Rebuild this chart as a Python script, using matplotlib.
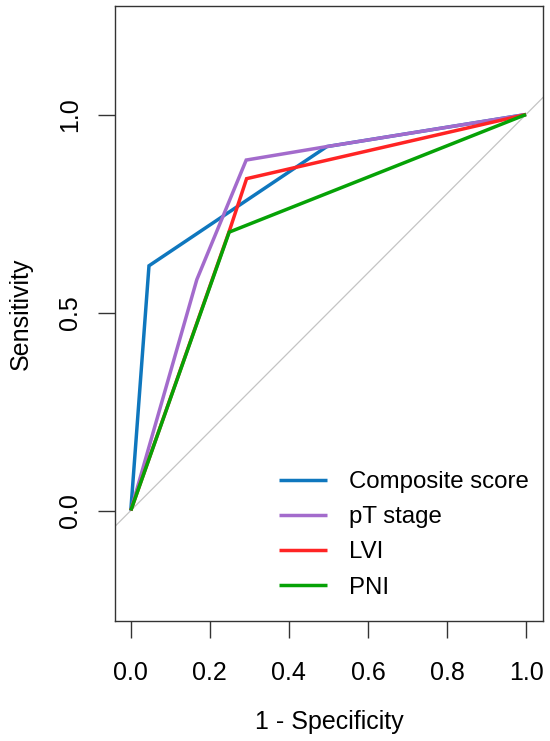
import matplotlib
matplotlib.use("Agg")
import matplotlib.pyplot as plt

plt.rcParams['font.family'] = ['Liberation Sans', 'DejaVu Sans']

# ROC data (x = 1 - specificity, y = sensitivity)
series_names = ["Composite score", "pT stage", "LVI", "PNI"]
composite_x = [0.0, 0.046, 0.496, 1.0]
composite_y = [0.0, 0.618, 0.919, 1.0]
pt_x = [0.0, 0.167, 0.292, 0.496, 1.0]
pt_y = [0.0, 0.583, 0.885, 0.919, 1.0]
lvi_x = [0.0, 0.250, 0.293, 1.0]
lvi_y = [0.0, 0.708, 0.838, 1.0]
pni_x = [0.0, 0.249, 1.0]
pni_y = [0.0, 0.703, 1.0]
colors = ["#0F77BE", "#A36BCC", "#FF2424", "#06A206"]

x_ticks = [0.0, 0.2, 0.4, 0.6, 0.8, 1.0]
y_ticks = [0.0, 0.5, 1.0]

fig = plt.figure(figsize=(5.5, 7.41), dpi=100)
ax = fig.add_axes([115/550, 1 - 621/741, 428/550, 615/741])

# diagonal reference line
ax.plot([-0.2, 1.2], [-0.2, 1.2], color="#C4C4C4", lw=0.9, zorder=1)

xs = [composite_x, pt_x, lvi_x, pni_x]
ys = [composite_y, pt_y, lvi_y, pni_y]
draw_order = [3, 2, 0, 1]  # PNI, LVI, composite, pT on top
handles = {}
for i in draw_order:
    h, = ax.plot(xs[i], ys[i], color=colors[i], lw=2.5, zorder=2 + i * 0.1,
                 solid_joinstyle='miter', solid_capstyle='butt')
    handles[i] = h

ax.set_xlim(-0.04, 1.043)
ax.set_ylim(-0.279, 1.274)

ax.set_xticks(x_ticks)
ax.set_xticklabels([f"{t:.1f}" for t in x_ticks])
ax.set_yticks(y_ticks)
ax.set_yticklabels([f"{t:.1f}" for t in y_ticks], rotation=90, va='center')

for sp in ax.spines.values():
    sp.set_color("#333333")
    sp.set_linewidth(1.0)

ax.tick_params(axis='both', direction='out', length=12, width=1.0,
               color="#333333", labelsize=18, labelcolor="black")
ax.tick_params(axis='x', pad=16.5)
ax.tick_params(axis='y', pad=12)

ax.set_xlabel("1 - Specificity", fontsize=18, labelpad=18.5)
ax.set_ylabel("Sensitivity", fontsize=18, labelpad=18)

leg = ax.legend([handles[i] for i in range(4)], series_names,
                loc='upper left', bbox_to_anchor=(279/550, 1 - 471/741),
                bbox_transform=fig.transFigure, frameon=False,
                fontsize=17.3, handlelength=2.0, handletextpad=0.9,
                labelspacing=0.55, borderpad=0, borderaxespad=0)

fig.savefig("out.png", dpi=100)
